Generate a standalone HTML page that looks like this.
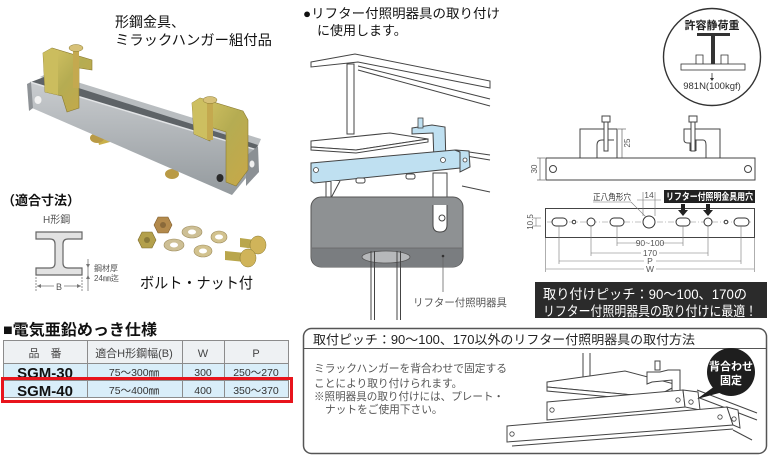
<!DOCTYPE html>
<html><head><meta charset="utf-8"><style>
html,body{margin:0;padding:0;background:#fff;}
svg{display:block;}
text{font-family:"Liberation Sans","Noto Sans CJK JP",sans-serif;}
</style></head><body>
<svg width="770" height="461" viewBox="0 0 770 461" xmlns="http://www.w3.org/2000/svg">
<defs>
<linearGradient id="gray" x1="0" y1="0" x2="0" y2="1"><stop offset="0" stop-color="#c9cccf"/><stop offset="1" stop-color="#949a9e"/></linearGradient>
<linearGradient id="gold" x1="0" y1="0" x2="1" y2="1"><stop offset="0" stop-color="#d9c766"/><stop offset="0.5" stop-color="#b5ac52"/><stop offset="1" stop-color="#c8a848"/></linearGradient>
</defs>

<!-- ===== Product photo ===== -->
<text x="115" y="27" font-size="14" fill="#111">形鋼金具、</text>
<text x="115" y="45" font-size="14" fill="#111" textLength="157" lengthAdjust="spacingAndGlyphs">ミラックハンガー組付品</text>

<polygon points="40,77 48,73 261,139 258,146" fill="#b9bdc0"/>
<polygon points="31,82 44,77 258,145 254,152" fill="#5e6367"/>
<polygon points="97,136 108,133 110,142 99,145" fill="#c9b04a"/>
<ellipse cx="97" cy="138" rx="7" ry="5" fill="#b99a45"/>
<ellipse cx="172" cy="174" rx="7" ry="5" fill="#b99a45"/>
<polygon points="30,82 257,150 246,178 232,195 32,108" fill="url(#gray)"/>
<polyline points="30,82 257,150" stroke="#e2e4e6" stroke-width="1.5" fill="none"/>
<polygon points="27,84 31,82 33,108 29,111" fill="#8e9296"/>
<ellipse cx="38" cy="100" rx="3.5" ry="4" fill="#f2f2f2"/>
<polygon points="246,156 258,146 259,172 246,186" fill="#8b9094"/>
<ellipse cx="252" cy="164" rx="2.5" ry="3.5" fill="#f0f0f0"/>
<ellipse cx="220" cy="178" rx="3.5" ry="4" fill="#2a2a2a"/>

<!-- left clamp -->
<polygon points="43,53 52,48 92,60 92,70 79,68 79,108 67,112 62,96 45,92" fill="url(#gold)" stroke="#8a7a30" stroke-width="0.6"/>
<polygon points="43,53 52,48 58,52 58,95 45,92" fill="#cbbd5e"/>
<rect x="73" y="48" width="6" height="40" fill="#c4a94f"/>
<ellipse cx="76" cy="48" rx="7" ry="3.5" fill="#d7c178" stroke="#8a7a30" stroke-width="0.5"/>
<!-- right clamp -->
<polygon points="192,103 200,98 243,111 248,120 248,170 236,186 226,182 226,132 210,127 210,141 194,134" fill="url(#gold)" stroke="#8a7a30" stroke-width="0.6"/>
<polygon points="192,103 200,98 208,101 208,140 194,134" fill="#cdbf60"/>
<rect x="207" y="100" width="6" height="40" fill="#c4a94f"/>
<ellipse cx="210" cy="100" rx="7" ry="3.5" fill="#d7c178" stroke="#8a7a30" stroke-width="0.5"/>

<!-- ===== 適合寸法 ===== -->
<text x="2" y="205" font-size="13" font-weight="bold" fill="#111">（適合寸法）</text>
<text x="43" y="223" font-size="10" fill="#555">H形鋼</text>
<path d="M36,232 H82 V239 H68 Q63,239 63,244 V263 Q63,268 68,268 H82 V275 H36 V268 H50 Q55,268 55,263 V244 Q55,239 50,239 H36 Z" fill="#e2e2e2" stroke="#666" stroke-width="1.2"/>
<line x1="36" y1="277" x2="36" y2="291" stroke="#777" stroke-width="0.8" stroke-dasharray="2,1"/>
<line x1="82" y1="277" x2="82" y2="291" stroke="#777" stroke-width="0.8" stroke-dasharray="2,1"/>
<line x1="37" y1="286" x2="81" y2="286" stroke="#777" stroke-width="0.8"/>
<path d="M37,286 l4,-2 v4z M81,286 l-4,-2 v4z" fill="#777"/>
<rect x="54" y="280" width="10" height="10" fill="#fff"/>
<text x="59" y="290" font-size="9" fill="#555" text-anchor="middle">B</text>
<line x1="88" y1="259" x2="88" y2="291" stroke="#777" stroke-width="0.8"/>
<path d="M88,268 l-2,-4 h4z M88,275 l-2,4 h4z" fill="#777"/>
<text x="94" y="271" font-size="8" fill="#555">鋼材厚</text>
<text x="94" y="281" font-size="8" fill="#555">24㎜迄</text>

<!-- parts -->
<polygon points="138,240 142,232 152,232 156,240 152,248 142,248" fill="#b3a04c" stroke="#7d6a2a" stroke-width="0.6"/>
<circle cx="147" cy="240" r="3" fill="#8a7a3a"/>
<polygon points="154,225 158,217 168,217 172,225 168,233 158,233" fill="#b38a4c" stroke="#7d5a2a" stroke-width="0.6"/>
<circle cx="163" cy="225" r="3" fill="#8a6a3a"/>
<ellipse cx="192" cy="232" rx="10" ry="6" fill="#cdbf95" stroke="#9c8a5a" stroke-width="0.6"/><ellipse cx="192" cy="232" rx="4" ry="2.5" fill="#fff"/>
<ellipse cx="174" cy="245" rx="10" ry="6" fill="#cdbf95" stroke="#9c8a5a" stroke-width="0.6"/><ellipse cx="174" cy="245" rx="4" ry="2.5" fill="#fff"/>
<ellipse cx="203" cy="251" rx="9" ry="6" fill="#d2c28e" stroke="#9c8a5a" stroke-width="0.6"/><ellipse cx="203" cy="251" rx="4" ry="2.5" fill="#fff"/>
<ellipse cx="219" cy="237" rx="8" ry="6" fill="#d2c28e" stroke="#9c8a5a" stroke-width="0.6"/><ellipse cx="219" cy="237" rx="4" ry="2.5" fill="#fff"/>
<polygon points="240,238 255,240 255,249 240,247" fill="#b9a64c"/>
<ellipse cx="258" cy="245" rx="8" ry="9" fill="#d0b45a" stroke="#8a7a30" stroke-width="0.5"/>
<polygon points="225,251 245,253 245,262 225,260" fill="#b9a64c"/>
<ellipse cx="248" cy="258" rx="8" ry="9" fill="#d0b45a" stroke="#8a7a30" stroke-width="0.5"/>
<text x="140" y="288" font-size="15" fill="#111" textLength="113" lengthAdjust="spacingAndGlyphs">ボルト・ナット付</text>

<!-- ===== Spec table ===== -->
<text x="3" y="335" font-size="15.5" font-weight="bold" fill="#111" textLength="154" lengthAdjust="spacingAndGlyphs">■電気亜鉛めっき仕様</text>
<rect x="3" y="340" width="286" height="23" fill="#eef1f3"/>
<rect x="3" y="363" width="286" height="35" fill="#d9eef9"/>
<g stroke="#8c8c8c" stroke-width="1" fill="none">
<rect x="3.5" y="340.5" width="285" height="57"/>
<line x1="3" y1="363.5" x2="289" y2="363.5"/>
<line x1="3" y1="380.5" x2="289" y2="380.5"/>
<line x1="87.5" y1="340" x2="87.5" y2="398"/>
<line x1="182.5" y1="340" x2="182.5" y2="398"/>
<line x1="224.5" y1="340" x2="224.5" y2="398"/>
</g>
<g font-size="11" fill="#444" text-anchor="middle">
<text x="45" y="357">品　番</text>
<text x="134" y="357">適合H形鋼幅(B)</text>
<text x="203" y="357">W</text>
<text x="256" y="357">P</text>
</g>
<g font-size="15" font-weight="bold" fill="#111" text-anchor="middle">
<text x="45" y="378">SGM-30</text>
<text x="45" y="396">SGM-40</text>
</g>
<g font-size="10.5" fill="#333" text-anchor="middle">
<text x="134" y="376">75〜300㎜</text>
<text x="203" y="376">300</text>
<text x="256" y="376">250〜270</text>
<text x="134" y="394">75〜400㎜</text>
<text x="203" y="394">400</text>
<text x="256" y="394">350〜370</text>
</g>
<rect x="2.5" y="378.5" width="289" height="23" fill="none" stroke="#e8141c" stroke-width="3"/>

<!-- ===== Middle illustration ===== -->
<text x="303" y="18" font-size="13" fill="#111" textLength="197" lengthAdjust="spacingAndGlyphs">●リフター付照明器具の取り付け</text>
<text x="317" y="35" font-size="13" fill="#111">に使用します。</text>
<g stroke="#444" stroke-width="1" fill="#fff">
<polygon points="311,62 355,54 490,81 490,88 358,62 311,67"/>
<line x1="358" y1="66" x2="490" y2="99"/>
<line x1="358" y1="70" x2="490" y2="106"/>
<rect x="347" y="64" width="7" height="70"/>
<line x1="455" y1="150" x2="490" y2="155" />
<line x1="460" y1="155" x2="490" y2="160" />
<line x1="462" y1="186" x2="490" y2="192" />
<polygon points="311,141 390,133 428,139 356,150 311,147"/>
<polygon points="311,147 356,150 428,139 428,142 356,153 311,150"/>
</g>
<g stroke="#444" stroke-width="1" fill="#bfe0f1">
<polygon points="412,128 432,125 445,127 446,165 434,161 433,133 412,134"/>
<polygon points="311,163 455,150 460,152 460,168 314,183 311,181"/>
<polygon points="455,150 469,151 470,167 460,172 460,152"/>
</g>
<rect x="418" y="118" width="5" height="10" fill="#bfe0f1" stroke="#444" stroke-width="0.8"/>
<circle cx="316" cy="170" r="2.5" fill="#fff" stroke="#444" stroke-width="0.8"/>
<circle cx="443" cy="160" r="2.5" fill="#fff" stroke="#444" stroke-width="0.8"/>
<circle cx="465" cy="160" r="2" fill="#fff" stroke="#444" stroke-width="0.8"/>
<g stroke="#444" stroke-width="1" fill="#fff">
<path d="M326,182 V200 M331,181 V198 L340,181"/>
<path d="M433,173 H447 V225 Q447,232 440,232 Q433,232 433,225 Z"/>
<rect x="356" y="178" width="9" height="5" rx="2"/>
<rect x="406" y="174" width="9" height="5" rx="2"/>
</g>
<rect x="311" y="197" width="152" height="70" rx="10" fill="#8e9193" stroke="#555" stroke-width="1"/>
<path d="M312,248 H462 V257 Q462,267 452,267 H322 Q312,267 312,257 Z" fill="#7a7d80"/>
<line x1="312" y1="248" x2="462" y2="248" stroke="#666" stroke-width="0.8"/>
<ellipse cx="386" cy="257" rx="24" ry="6" fill="#b6b8ba" stroke="#555" stroke-width="0.8"/>
<path d="M433,205 V225 Q433,232 440,232 Q447,232 447,225 V205" fill="#fff" stroke="#444"/>
<circle cx="442" cy="218" r="3" fill="#fff" stroke="#444"/>
<g stroke="#444" stroke-width="1">
<line x1="371" y1="251" x2="371" y2="320"/><line x1="374.5" y1="251" x2="374.5" y2="320"/>
<line x1="397" y1="251" x2="397" y2="320"/><line x1="400.5" y1="251" x2="400.5" y2="320"/>
</g>
<line x1="443" y1="256" x2="443" y2="292" stroke="#666" stroke-width="0.8"/>
<circle cx="443" cy="256" r="1.3" fill="#333"/>
<text x="413" y="306" font-size="10.5" fill="#555" textLength="94" lengthAdjust="spacingAndGlyphs">リフター付照明器具</text>

<!-- ===== Right: load circle ===== -->
<circle cx="712" cy="57" r="48.5" fill="#fff" stroke="#333" stroke-width="1.4"/>
<text x="712" y="29" font-size="11" font-weight="bold" fill="#222" text-anchor="middle">許容静荷重</text>
<rect x="697" y="33" width="33" height="3" fill="#333"/>
<rect x="711" y="36" width="4" height="28" fill="#333"/>
<rect x="681" y="64" width="64" height="6" fill="#fff" stroke="#333" stroke-width="0.8"/>
<path d="M696,64 V55 H703 V64 M721,64 V55 H728 V64" fill="none" stroke="#333" stroke-width="0.8"/>
<line x1="712" y1="73" x2="712" y2="79" stroke="#333" stroke-width="0.8"/>
<path d="M712,81 l-2,-3 h4z" fill="#333"/>
<text x="712" y="89" font-size="9.5" fill="#333" text-anchor="middle">981N(100kgf)</text>

<!-- side view -->
<g stroke="#444" stroke-width="1" fill="#fff">
<path d="M580,158 V129 H617 V158 M597,158 V145 Q597,140 602,140 H604 V151 M608,151 V140 H614"/>
<rect x="602" y="116" width="8" height="6"/>
<rect x="604" y="122" width="4" height="29"/>
<path d="M720,158 V129 H684 V140 Q684,143 688,143 H690 V151 M696,151 V140 H703 Q706,140 706,145 V158"/>
<rect x="689" y="116" width="8" height="6"/>
<rect x="691" y="122" width="4" height="29"/>
<rect x="546" y="158" width="209" height="22"/>
<circle cx="553" cy="169" r="3.5"/>
<circle cx="748" cy="169" r="3.5"/>
</g>
<g stroke="#666" stroke-width="0.7">
<line x1="540" y1="158" x2="540" y2="180"/><line x1="537" y1="158" x2="545" y2="158"/><line x1="537" y1="180" x2="545" y2="180"/>
<line x1="622" y1="129" x2="622" y2="158"/><line x1="618" y1="129" x2="626" y2="129"/>
</g>
<text transform="translate(537,169) rotate(-90)" font-size="8" fill="#555" text-anchor="middle">30</text>
<text transform="translate(630,143) rotate(-90)" font-size="8" fill="#555" text-anchor="middle">25</text>

<!-- hole view -->
<rect x="545.5" y="208.5" width="209" height="29" fill="#fff" stroke="#444" stroke-width="1"/>
<line x1="547" y1="222" x2="753" y2="222" stroke="#888" stroke-width="0.6" stroke-dasharray="6,2,1,2"/>
<g fill="#fff" stroke="#333" stroke-width="1">
<rect x="552" y="218" width="15" height="8" rx="4"/>
<circle cx="574" cy="222" r="1.8"/>
<circle cx="591" cy="222" r="4"/>
<rect x="610" y="218" width="14" height="8" rx="4"/>
<circle cx="649" cy="222" r="6"/>
<rect x="676" y="218" width="14" height="8" rx="4"/>
<circle cx="708" cy="222" r="4"/>
<circle cx="726" cy="222" r="1.8"/>
<rect x="734" y="218" width="15" height="8" rx="4"/>
</g>
<g stroke="#777" stroke-width="0.6">
<line x1="559" y1="226" x2="559" y2="264"/>
<line x1="591" y1="226" x2="591" y2="256"/>
<line x1="617" y1="226" x2="617" y2="246"/>
<line x1="683" y1="226" x2="683" y2="246"/>
<line x1="708" y1="226" x2="708" y2="256"/>
<line x1="741" y1="226" x2="741" y2="264"/>
<line x1="545.5" y1="238" x2="545.5" y2="272"/>
<line x1="754.5" y1="238" x2="754.5" y2="272"/>
<line x1="617" y1="243" x2="683" y2="243"/>
<line x1="591" y1="253" x2="708" y2="253"/>
<line x1="559" y1="261" x2="741" y2="261"/>
<line x1="546" y1="269" x2="754" y2="269"/>
<line x1="643" y1="192" x2="643" y2="216"/><line x1="655" y1="192" x2="655" y2="216"/>
<line x1="637" y1="200" x2="661" y2="200"/>
<line x1="631" y1="202" x2="646" y2="217"/>
<line x1="593" y1="202" x2="631" y2="202"/>
<line x1="536" y1="218" x2="536" y2="226"/><line x1="533" y1="218" x2="541" y2="218"/><line x1="533" y1="226" x2="541" y2="226"/>
</g>
<g font-size="8.5" fill="#555" text-anchor="middle">
<rect x="638" y="239" width="24" height="8" fill="#fff"/><text x="650" y="246">90~100</text>
<rect x="641" y="249" width="18" height="8" fill="#fff"/><text x="650" y="256">170</text>
<rect x="644" y="257" width="12" height="8" fill="#fff"/><text x="650" y="264">P</text>
<rect x="644" y="265" width="12" height="8" fill="#fff"/><text x="650" y="272">W</text>
<text x="649" y="198">14</text>
</g>
<text x="593" y="200" font-size="8.5" fill="#333" textLength="38" lengthAdjust="spacingAndGlyphs">正八角形穴</text>
<text transform="translate(533,222) rotate(-90)" font-size="8" fill="#555" text-anchor="middle">10.5</text>
<rect x="664" y="190" width="91" height="13" fill="#222"/>
<text x="666" y="200" font-size="9.5" font-weight="bold" fill="#fff" textLength="87" lengthAdjust="spacingAndGlyphs">リフター付照明金具用穴</text>
<path d="M681,204 h4 v6 h3 l-5,6 l-5,-6 h3z M706,204 h4 v6 h3 l-5,6 l-5,-6 h3z" fill="#222"/>

<!-- banner -->
<rect x="535" y="282" width="232" height="36" fill="#2b2b2b"/>
<text x="543" y="299" font-size="13.5" fill="#fff" textLength="204" lengthAdjust="spacingAndGlyphs">取り付けピッチ：90〜100、170の</text>
<text x="543" y="316" font-size="13.5" fill="#fff" textLength="214" lengthAdjust="spacingAndGlyphs">リフター付照明器具の取り付けに最適！</text>

<!-- ===== Bottom box ===== -->
<rect x="303.5" y="328.5" width="463" height="125" rx="8" fill="#fff" stroke="#555" stroke-width="1.5"/>
<line x1="304" y1="348.5" x2="766" y2="348.5" stroke="#555" stroke-width="1"/>
<text x="313" y="344" font-size="12.5" fill="#222" textLength="382" lengthAdjust="spacingAndGlyphs">取付ピッチ：90〜100、170以外のリフター付照明器具の取付方法</text>
<g font-size="10.7" fill="#555">
<text x="314" y="372" textLength="193" lengthAdjust="spacingAndGlyphs">ミラックハンガーを背合わせで固定する</text>
<text x="314" y="387">ことにより取り付けられます。</text>
<text x="314" y="400" textLength="190" lengthAdjust="spacingAndGlyphs">※照明器具の取り付けには、プレート・</text>
<text x="325" y="413">ナットをご使用下さい。</text>
</g>
<g stroke="#444" stroke-width="1" fill="#fff">
<line x1="583" y1="353" x2="583" y2="380"/><line x1="590" y1="353" x2="590" y2="378"/>
<line x1="697" y1="390" x2="757" y2="413"/>
<line x1="697" y1="397" x2="757" y2="420"/>
<line x1="733" y1="430" x2="752" y2="440"/>
<polygon points="547,382 625,371 678,385 655,397 547,387"/>
<polygon points="547,387 655,397 678,385 678,389 655,401 547,391"/>
<path d="M647,384 V372 H660 L668,370 H680 V393 L672,396 V380 L652,382 Z"/>
<rect x="655" y="361" width="5" height="9"/>
<polygon points="547,402 683,390 685,407 547,420"/>
<polygon points="683,390 698,392 700,410 685,407"/>
<polygon points="507,426 727,407 733,425 507,442"/>
<polygon points="727,407 738,410 740,428 733,425"/>
<line x1="512" y1="446" x2="733" y2="429"/>
</g>
<g fill="#fff" stroke="#444" stroke-width="0.8">
<circle cx="552" cy="410" r="2.2"/><circle cx="678" cy="400" r="2.2"/><circle cx="691" cy="402" r="2.2"/>
<circle cx="512" cy="434" r="2.2"/><circle cx="720" cy="417" r="2.2"/><circle cx="734" cy="419" r="2.2"/>
</g>
<path d="M715,386 L697,399 L723,392 Z" fill="#1e1e1e"/>
<circle cx="731" cy="372" r="24" fill="#1e1e1e"/>
<text x="731" y="370" font-size="11" font-weight="bold" fill="#fff" text-anchor="middle">背合わせ</text>
<text x="731" y="384" font-size="11" font-weight="bold" fill="#fff" text-anchor="middle">固定</text>
</svg>
</body></html>
